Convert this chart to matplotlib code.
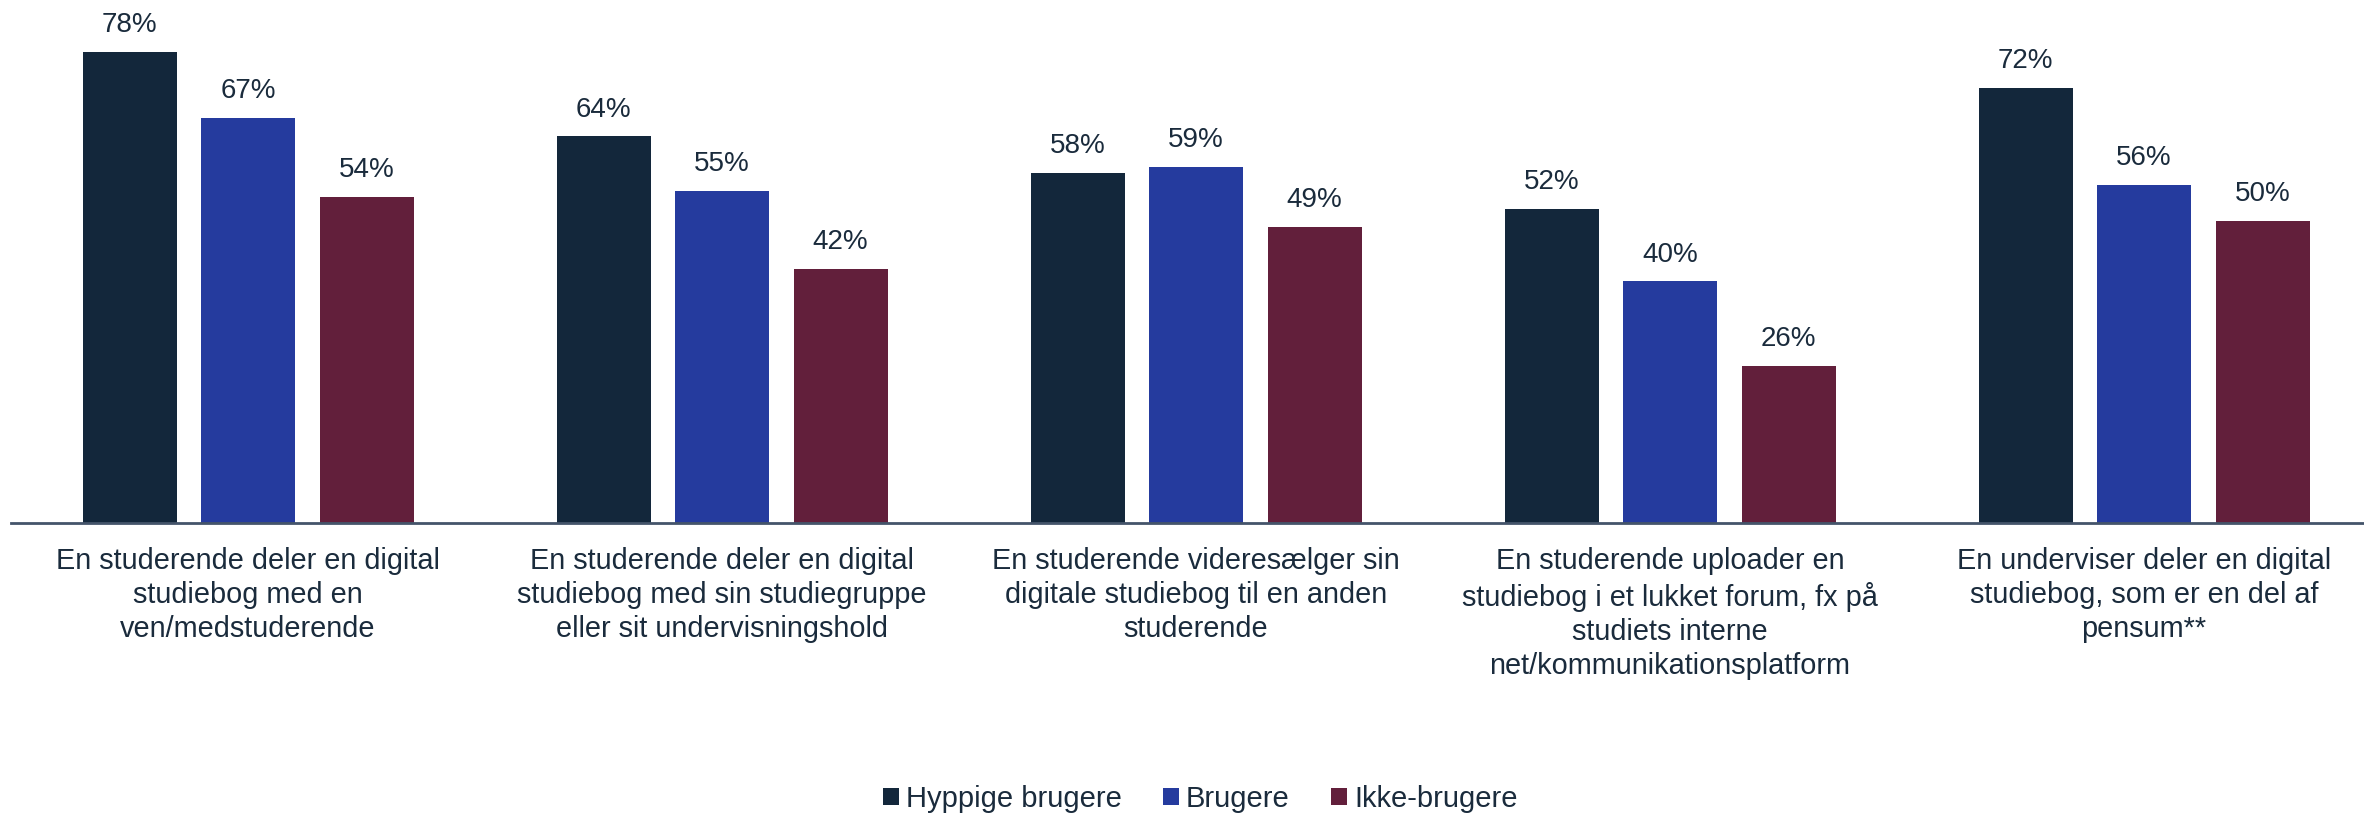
import matplotlib
matplotlib.use("Agg")
import matplotlib.pyplot as plt
import numpy as np

categories = [
    "En studerende deler en digital\nstudiebog med en\nven/medstuderende",
    "En studerende deler en digital\nstudiebog med sin studiegruppe\neller sit undervisningshold",
    "En studerende videresælger sin\ndigitale studiebog til en anden\nstuderende",
    "En studerende uploader en\nstudiebog i et lukket forum, fx på\nstudiets interne\nnet/kommunikationsplatform",
    "En underviser deler en digital\nstudiebog, som er en del af\npensum**",
]
series_names = ["Hyppige brugere", "Brugere", "Ikke-brugere"]
hyppige = [78, 64, 58, 52, 72]
brugere = [67, 55, 59, 40, 56]
ikke = [54, 42, 49, 26, 50]

colors = ["#13273B", "#253B9E", "#621F3B"]
text_color = "#1A2B3C"

plt.rcParams['font.family'] = ['Liberation Sans', 'DejaVu Sans']

W, H = 2364, 815
fig = plt.figure(figsize=(W / 100, H / 100), dpi=100)
ax_left = 11 / W
ax_width = (5 * 474) / W
ax_bottom = (H - 523) / H
ax_height = 523 / H
ax = fig.add_axes([ax_left, ax_bottom, ax_width, ax_height])

x = np.arange(len(categories))
bw = 94 / 474
off = 118.5 / 474
handles = []
for i, (vals, name) in enumerate(zip([hyppige, brugere, ikke], series_names)):
    b = ax.bar(x + (i - 1) * off, vals, width=bw, color=colors[i], label=name)
    handles.append(b)
    for xi, v in zip(x + (i - 1) * off, vals):
        ax.annotate(f"{v}%", (xi, v), xytext=(0, 10), textcoords="offset points",
                    ha="center", va="bottom", fontsize=20, color=text_color)

ax.set_xlim(-0.5, len(categories) - 0.5)
ax.set_ylim(0, 523 / 6.04)
ax.set_yticks([])
ax.set_xticks(x)
ax.set_xticklabels(categories, fontsize=20.8, color=text_color, linespacing=1.29)
ax.tick_params(axis='x', length=0, pad=17)
for s in ["top", "right", "left"]:
    ax.spines[s].set_visible(False)
ax.spines["bottom"].set_color("#44546A")
ax.spines["bottom"].set_linewidth(2)

leg = fig.legend(handles=handles, labels=series_names, loc="center",
                 bbox_to_anchor=(1200 / W, 1 - 799 / H), ncol=3, frameon=False,
                 fontsize=21, handlelength=0.55, handleheight=0.55,
                 columnspacing=1.4, handletextpad=0.25)
for t in leg.get_texts():
    t.set_color(text_color)

fig.savefig("out.png", dpi=100)
